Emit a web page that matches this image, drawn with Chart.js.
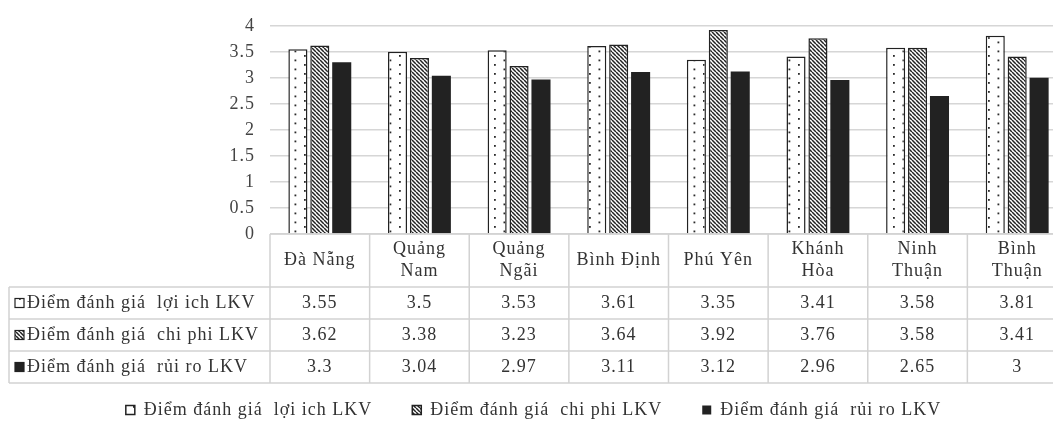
<!DOCTYPE html>
<html><head><meta charset="utf-8">
<script src="https://cdn.jsdelivr.net/npm/chart.js@4.4.1/dist/chart.umd.min.js"></script>
<style>
html,body{margin:0;padding:0;overflow:hidden;background:#fff;}
#wrap{position:relative;width:1070px;height:429px;}
</style></head><body>
<div id="wrap"><canvas id="c"></canvas></div>
<script>
const categories = [["Đà Nẵng"],["Quảng","Nam"],["Quảng","Ngãi"],["Bình Định"],["Phú Yên"],["Khánh","Hòa"],["Ninh","Thuận"],["Bình","Thuận"]];
const seriesNames = ["Điểm đánh giá  lợi ich LKV","Điểm đánh giá  chi phi LKV","Điểm đánh giá  rủi ro LKV"];
const benefit = [3.55,3.5,3.53,3.61,3.35,3.41,3.58,3.81];
const cost = [3.62,3.38,3.23,3.64,3.92,3.76,3.58,3.41];
const risk = [3.3,3.04,2.97,3.11,3.12,2.96,2.65,3];
const yMin = 0, yMax = 4, yStep = 0.5;

const FONT = "'Liberation Serif', serif";
const TXT = '#333';
const SPACING = '1px';

function dotPattern(){
  const W=19, H=9;
  const c=document.createElement('canvas'); c.width=W; c.height=H;
  const g=c.getContext('2d');
  g.fillStyle='#fff'; g.fillRect(0,0,W,H);
  g.fillStyle='#2a2a2a'; g.fillRect(0,1,1.8,1.8); g.fillRect(9.5,5.5,1.8,1.8);
  return g.createPattern(c,'repeat');
}
function stripePattern(){
  const s=4; const c=document.createElement('canvas'); c.width=s; c.height=s;
  const g=c.getContext('2d');
  g.fillStyle='#fff'; g.fillRect(0,0,s,s);
  g.strokeStyle='#222'; g.lineWidth=1.5; g.beginPath();
  for(let k=-1;k<=1;k++){ g.moveTo(k*s,0); g.lineTo(k*s+s,s); }
  g.stroke();
  return g.createPattern(c,'repeat');
}
const fills = [dotPattern(), stripePattern(), '#222'];
const seriesData = [benefit, cost, risk];

const spacingPlugin = {
  id:'spacing',
  beforeUpdate(chart){ chart.ctx.letterSpacing = SPACING; },
  beforeLayout(chart){ chart.ctx.letterSpacing = SPACING; },
  beforeDraw(chart){ chart.ctx.letterSpacing = SPACING; }
};

const tablePlugin = {
  id:'dataTable',
  afterDraw(chart){
    const {ctx, chartArea, scales:{x}} = chart;
    const n = categories.length;
    const w = (chartArea.right - chartArea.left)/n;
    const top = chartArea.bottom;
    const headH = 53, rowH = 32, leftX = 9;
    const rowsTop = top + headH, bottom = rowsTop + 3*rowH;
    ctx.save();
    ctx.letterSpacing = SPACING;
    ctx.strokeStyle = '#d2d2d2'; ctx.lineWidth = 1.5;
    const line=(a,b,c,d)=>{ctx.beginPath();ctx.moveTo(a,b);ctx.lineTo(c,d);ctx.stroke();};
    line(chartArea.left, top, chartArea.right, top);
    for(let r=0;r<=3;r++){ const y=rowsTop+r*rowH; line(leftX,y,chartArea.right,y); }
    for(let i=0;i<=n;i++){ const xx=chartArea.left+i*w; line(xx,top,xx,bottom); }
    line(leftX,rowsTop,leftX,bottom);
    ctx.fillStyle = TXT; ctx.textAlign='center'; ctx.textBaseline='middle';
    ctx.font = '18px ' + FONT;
    categories.forEach((lab,i)=>{
      const cx = x.getPixelForValue(i);
      const lh = 22; const cy = top + headH/2;
      lab.forEach((t,j)=>{ ctx.fillText(t, cx, cy + (j-(lab.length-1)/2)*lh); });
    });
    seriesData.forEach((arr,r)=>{
      const cy = rowsTop + r*rowH + rowH/2;
      arr.forEach((v,i)=>{ ctx.fillText(String(v), x.getPixelForValue(i), cy); });
      ctx.fillStyle = fills[r]; ctx.fillRect(15, cy-4.5, 9, 9);
      ctx.strokeStyle='#222'; ctx.lineWidth=1.2; ctx.strokeRect(15, cy-4.5, 9, 9);
      ctx.fillStyle = TXT; ctx.textAlign='left';
      ctx.fillText(seriesNames[r], 27, cy);
      ctx.textAlign='center';
    });
    ctx.restore();
  }
};

new Chart(document.getElementById('c'), {
  type:'bar',
  data:{
    labels: categories.map(c=>c.join(' ')),
    datasets: seriesData.map((d,i)=>({
      label: seriesNames[i], data: d,
      backgroundColor: fills[i],
      borderColor: '#222', borderWidth: i<2 ? 1.5 : 0,
      categoryPercentage: 0.66, barPercentage: 0.87
    }))
  },
  options:{
    responsive:true, maintainAspectRatio:false, animation:false,
    layout:{padding:{left:0,right:3,top:16,bottom:0}},
    plugins:{
      tooltip:{enabled:false},
      legend:{position:'bottom', labels:{boxWidth:9, boxHeight:9, padding:40, color:TXT, font:{family:FONT,size:18}}}
    },
    scales:{
      x:{ticks:{display:false}, grid:{display:false}, border:{display:false},
         afterFit(s){ s.height = 127; }},
      y:{min:yMin, max:yMax, ticks:{stepSize:yStep, color:'#444', padding:15, font:{family:FONT,size:18},
           callback:(v)=>String(v)},
         grid:{color:'#d6d6d6', lineWidth:1.4, drawTicks:false}, border:{display:false},
         afterFit(s){ s.width = 270; }}
    }
  },
  plugins:[spacingPlugin, tablePlugin]
});
</script>
</body></html>
